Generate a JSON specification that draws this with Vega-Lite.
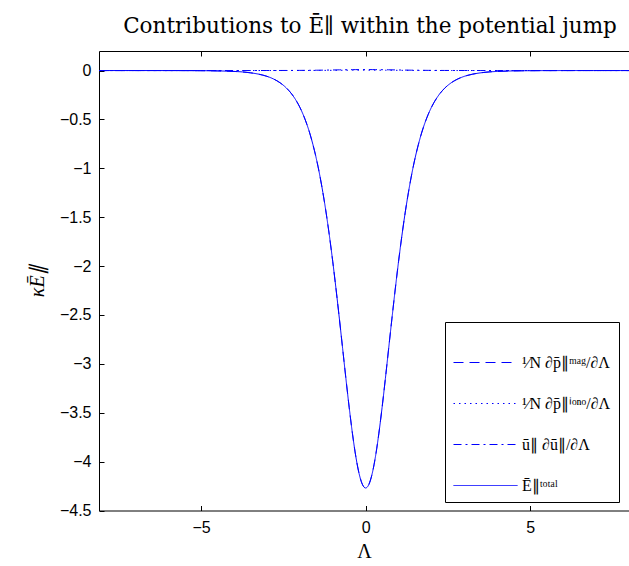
{
  "$schema": "https://vega.github.io/schema/vega-lite/v6.json",
  "width": 530,
  "height": 459.5,
  "autosize": {"type": "none"},
  "padding": {"left": 99, "top": 51, "right": 0, "bottom": 55.5},
  "background": "white",
  "config": {
    "view": {"stroke": "black", "strokeWidth": 1},
    "axis": {
      "grid": false,
      "domain": false,
      "tickColor": "black",
      "tickSize": -5,
      "labelColor": "black",
      "labelFont": "Liberation Sans",
      "labelFontSize": 16,
      "titleColor": "black",
      "titleFont": "Liberation Serif",
      "titleFontWeight": "normal",
      "titleFontSize": 20
    }
  },
  "title": {
    "text": "Contributions to Ē∥ within the potential jump",
    "font": "DejaVu Serif",
    "fontSize": 21.5,
    "fontWeight": "normal",
    "color": "black",
    "anchor": "middle",
    "offset": 13,
    "dx": 6
  },
  "data": {
    "values": [
      {"L": -8.1, "total": 0, "mag": 0, "iono": 0, "u": 0},
      {"L": -8, "total": 0, "mag": 0, "iono": 0, "u": 0},
      {"L": -7, "total": 0, "mag": 0, "iono": 0, "u": 0},
      {"L": -6, "total": -0.0002, "mag": -0.0002, "iono": 0, "u": 0},
      {"L": -5, "total": -0.0014, "mag": -0.0014, "iono": 0, "u": 0},
      {"L": -4.5, "total": -0.0035, "mag": -0.0035, "iono": 0, "u": 0},
      {"L": -4, "total": -0.009, "mag": -0.009, "iono": 0, "u": 0},
      {"L": -3.75, "total": -0.014, "mag": -0.014, "iono": 0, "u": 0.0001},
      {"L": -3.5, "total": -0.023, "mag": -0.023, "iono": 0.0001, "u": 0.0002},
      {"L": -3.25, "total": -0.037, "mag": -0.037, "iono": 0.0001, "u": 0.0003},
      {"L": -3, "total": -0.059, "mag": -0.059, "iono": 0.0002, "u": 0.0004},
      {"L": -2.8, "total": -0.086, "mag": -0.086, "iono": 0.0002, "u": 0.0006},
      {"L": -2.6, "total": -0.125, "mag": -0.125, "iono": 0.0003, "u": 0.0008},
      {"L": -2.4, "total": -0.181, "mag": -0.181, "iono": 0.0004, "u": 0.001},
      {"L": -2.2, "total": -0.261, "mag": -0.261, "iono": 0.0005, "u": 0.0013},
      {"L": -2, "total": -0.375, "mag": -0.375, "iono": 0.0007, "u": 0.0017},
      {"L": -1.9, "total": -0.449, "mag": -0.449, "iono": 0.0008, "u": 0.0019},
      {"L": -1.8, "total": -0.536, "mag": -0.536, "iono": 0.0009, "u": 0.0022},
      {"L": -1.7, "total": -0.638, "mag": -0.638, "iono": 0.001, "u": 0.0025},
      {"L": -1.6, "total": -0.759, "mag": -0.759, "iono": 0.0012, "u": 0.0029},
      {"L": -1.5, "total": -0.898, "mag": -0.898, "iono": 0.0013, "u": 0.0033},
      {"L": -1.4, "total": -1.06, "mag": -1.06, "iono": 0.0015, "u": 0.0037},
      {"L": -1.3, "total": -1.246, "mag": -1.246, "iono": 0.0017, "u": 0.0042},
      {"L": -1.2, "total": -1.456, "mag": -1.456, "iono": 0.0019, "u": 0.0047},
      {"L": -1.1, "total": -1.692, "mag": -1.692, "iono": 0.0021, "u": 0.0052},
      {"L": -1, "total": -1.952, "mag": -1.952, "iono": 0.0023, "u": 0.0058},
      {"L": -0.9, "total": -2.234, "mag": -2.234, "iono": 0.0026, "u": 0.0064},
      {"L": -0.8, "total": -2.532, "mag": -2.532, "iono": 0.0028, "u": 0.0071},
      {"L": -0.7, "total": -2.84, "mag": -2.84, "iono": 0.0031, "u": 0.0076},
      {"L": -0.6, "total": -3.149, "mag": -3.149, "iono": 0.0033, "u": 0.0082},
      {"L": -0.5, "total": -3.445, "mag": -3.445, "iono": 0.0035, "u": 0.0087},
      {"L": -0.4, "total": -3.715, "mag": -3.715, "iono": 0.0036, "u": 0.0091},
      {"L": -0.3, "total": -3.945, "mag": -3.945, "iono": 0.0038, "u": 0.0095},
      {"L": -0.2, "total": -4.121, "mag": -4.121, "iono": 0.0039, "u": 0.0098},
      {"L": -0.1, "total": -4.232, "mag": -4.232, "iono": 0.004, "u": 0.0099},
      {"L": 0, "total": -4.27, "mag": -4.27, "iono": 0.004, "u": 0.01},
      {"L": 0.1, "total": -4.232, "mag": -4.232, "iono": 0.004, "u": 0.0099},
      {"L": 0.2, "total": -4.121, "mag": -4.121, "iono": 0.0039, "u": 0.0098},
      {"L": 0.3, "total": -3.945, "mag": -3.945, "iono": 0.0038, "u": 0.0095},
      {"L": 0.4, "total": -3.715, "mag": -3.715, "iono": 0.0036, "u": 0.0091},
      {"L": 0.5, "total": -3.445, "mag": -3.445, "iono": 0.0035, "u": 0.0087},
      {"L": 0.6, "total": -3.149, "mag": -3.149, "iono": 0.0033, "u": 0.0082},
      {"L": 0.7, "total": -2.84, "mag": -2.84, "iono": 0.0031, "u": 0.0076},
      {"L": 0.8, "total": -2.532, "mag": -2.532, "iono": 0.0028, "u": 0.0071},
      {"L": 0.9, "total": -2.234, "mag": -2.234, "iono": 0.0026, "u": 0.0064},
      {"L": 1, "total": -1.952, "mag": -1.952, "iono": 0.0023, "u": 0.0058},
      {"L": 1.1, "total": -1.692, "mag": -1.692, "iono": 0.0021, "u": 0.0052},
      {"L": 1.2, "total": -1.456, "mag": -1.456, "iono": 0.0019, "u": 0.0047},
      {"L": 1.3, "total": -1.246, "mag": -1.246, "iono": 0.0017, "u": 0.0042},
      {"L": 1.4, "total": -1.06, "mag": -1.06, "iono": 0.0015, "u": 0.0037},
      {"L": 1.5, "total": -0.898, "mag": -0.898, "iono": 0.0013, "u": 0.0033},
      {"L": 1.6, "total": -0.759, "mag": -0.759, "iono": 0.0012, "u": 0.0029},
      {"L": 1.7, "total": -0.638, "mag": -0.638, "iono": 0.001, "u": 0.0025},
      {"L": 1.8, "total": -0.536, "mag": -0.536, "iono": 0.0009, "u": 0.0022},
      {"L": 1.9, "total": -0.449, "mag": -0.449, "iono": 0.0008, "u": 0.0019},
      {"L": 2, "total": -0.375, "mag": -0.375, "iono": 0.0007, "u": 0.0017},
      {"L": 2.2, "total": -0.261, "mag": -0.261, "iono": 0.0005, "u": 0.0013},
      {"L": 2.4, "total": -0.181, "mag": -0.181, "iono": 0.0004, "u": 0.001},
      {"L": 2.6, "total": -0.125, "mag": -0.125, "iono": 0.0003, "u": 0.0008},
      {"L": 2.8, "total": -0.086, "mag": -0.086, "iono": 0.0002, "u": 0.0006},
      {"L": 3, "total": -0.059, "mag": -0.059, "iono": 0.0002, "u": 0.0004},
      {"L": 3.25, "total": -0.037, "mag": -0.037, "iono": 0.0001, "u": 0.0003},
      {"L": 3.5, "total": -0.023, "mag": -0.023, "iono": 0.0001, "u": 0.0002},
      {"L": 3.75, "total": -0.014, "mag": -0.014, "iono": 0, "u": 0.0001},
      {"L": 4, "total": -0.009, "mag": -0.009, "iono": 0, "u": 0},
      {"L": 4.5, "total": -0.0035, "mag": -0.0035, "iono": 0, "u": 0},
      {"L": 5, "total": -0.0014, "mag": -0.0014, "iono": 0, "u": 0},
      {"L": 6, "total": -0.0002, "mag": -0.0002, "iono": 0, "u": 0},
      {"L": 7, "total": 0, "mag": 0, "iono": 0, "u": 0},
      {"L": 8, "total": 0, "mag": 0, "iono": 0, "u": 0}
    ]
  },
  "transform": [{"fold": ["mag", "iono", "u", "total"], "as": ["s", "E"]}],
  "layer": [
    {
      "transform": [{"filter": "datum.s != 'total'"}],
      "mark": {"type": "line", "strokeWidth": 1, "clip": true, "interpolate": "monotone"},
      "encoding": {
        "x": {
          "field": "L", "type": "quantitative",
          "scale": {"domain": [-8.1, 8], "nice": false, "zero": false},
          "axis": {"values": [-5, 0, 5], "title": "Λ", "labelPadding": 14, "titlePadding": 6, "format": "~g"}
        },
        "y": {
          "field": "E", "type": "quantitative",
          "scale": {"domain": [-4.5, 0.2], "nice": false, "zero": false},
          "axis": {
            "values": [0, -0.5, -1, -1.5, -2, -2.5, -3, -3.5, -4, -4.5],
            "format": "~g",
            "title": "κĒ∥",
            "titleFontStyle": "italic",
            "labelPadding": 13,
            "titlePadding": 12
          }
        },
        "color": {
          "field": "s", "type": "nominal",
          "scale": {"domain": ["mag", "iono", "u", "total"], "range": ["#0000ff", "#0000ff", "#0000ff", "#0000ff"]},
          "legend": {
            "orient": "none",
            "legendX": 346,
            "legendY": 271,
            "title": null,
            "strokeColor": "black",
            "fillColor": "white",
            "padding": 8,
            "symbolType": "stroke",
            "symbolSize": 4096,
            "symbolStrokeWidth": 1,
            "symbolStrokeColor": "#0000ff",
            "labelFont": "Liberation Serif",
            "labelFontSize": 16,
            "labelColor": "black",
            "rowPadding": -2,
            "labelExpr": "datum.label == 'mag' ? '¹⁄N ∂p̄∥ᵐᵃᵍ/∂Λ' : datum.label == 'iono' ? '¹⁄N ∂p̄∥ⁱᵒⁿᵒ/∂Λ' : datum.label == 'u' ? 'ū∥ ∂ū∥/∂Λ' : 'Ē∥ᵗᵒᵗᵃˡ'"
          }
        },
        "strokeDash": {
          "field": "s", "type": "nominal",
          "scale": {"domain": ["mag", "iono", "u", "total"], "range": [[10, 6], [1.5, 4], [8, 4, 2, 4], [1, 0]]},
          "legend": null
        }
      }
    },
    {
      "transform": [{"filter": "datum.s == 'total'"}],
      "mark": {"type": "line", "strokeWidth": 1, "clip": true, "interpolate": "monotone"},
      "encoding": {
        "x": {
          "field": "L", "type": "quantitative",
          "axis": {"orient": "top", "values": [-5, 0, 5], "labels": false, "title": null}
        },
        "y": {"field": "E", "type": "quantitative"},
        "color": {"field": "s", "type": "nominal"},
        "strokeDash": {"field": "s", "type": "nominal"}
      }
    }
  ],
  "resolve": {"axis": {"x": "independent"}}
}
